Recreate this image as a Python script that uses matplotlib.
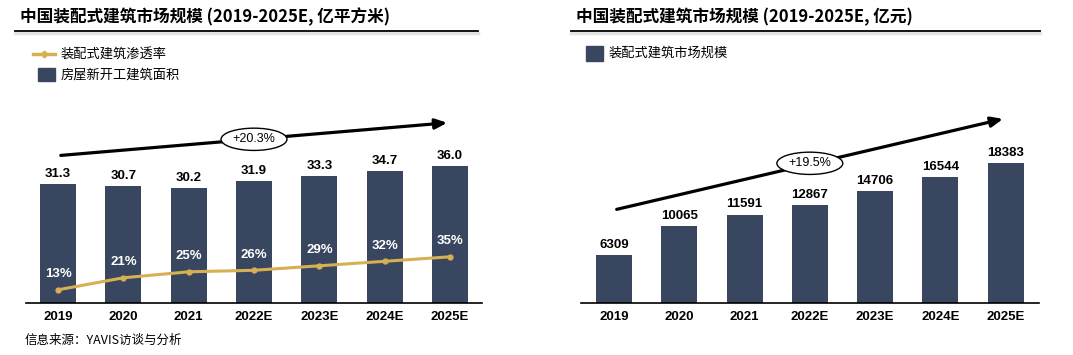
"""
China prefabricated building charts (2019-2025E)
"""
import matplotlib
matplotlib.use('Agg')
import matplotlib.pyplot as plt
from matplotlib.lines import Line2D
from matplotlib.patches import Rectangle

# data
years = ['2019', '2020', '2021', '2022E', '2023E', '2024E', '2025E']
new_area = [31.3, 30.7, 30.2, 31.9, 33.3, 34.7, 36.0]      # 亿平方米
penetration = [13, 21, 25, 26, 29, 32, 35]                  # %
market_size = [6309, 10065, 11591, 12867, 14706, 16544, 18383]  # 亿元
cagr_left = '+20.3%'
cagr_right = '+19.5%'

BAR = '#38475f'
GOLD = '#d6b052'
CJK = ['Noto Sans CJK SC', 'DejaVu Sans']
NUM = 'Liberation Sans'

W, H = 1073, 355
fig = plt.figure(figsize=(W / 100, H / 100), dpi=100)


def fx(px):
    return px / W


def fy(py):
    return 1 - py / H


def header(x0, x1, text):
    fig.text(fx(x0 + 5), fy(17), text, family=CJK, weight='bold',
             fontsize=12, va='center', ha='left')
    fig.add_artist(Line2D([fx(x0), fx(x1)], [fy(33), fy(33)],
                          color='#d9d9d9', lw=2.5, alpha=0.7))
    fig.add_artist(Line2D([fx(x0), fx(x1)], [fy(31), fy(31)],
                          color='black', lw=1.3))


def setup_axes(ax, xlim):
    ax.set_xlim(*xlim)
    for s in ['top', 'right', 'left']:
        ax.spines[s].set_visible(False)
    ax.spines['bottom'].set_linewidth(1.2)
    ax.spines['bottom'].set_color('black')
    ax.set_yticks([])
    ax.set_xticks(range(len(years)))
    ax.set_xticklabels(years, fontfamily=NUM, fontweight='bold', fontsize=9.5)
    ax.tick_params(axis='x', length=0, pad=6)
    ax.set_facecolor('none')


def cagr_arrow(ax, y0, y1, label, ly):
    ax.annotate('', xy=(6, y1), xytext=(0, y0),
                arrowprops=dict(arrowstyle='-|>,head_length=0.7,head_width=0.3',
                                color='black', lw=2.3), annotation_clip=False)
    ax.text(3.0, ly, label, ha='center', va='center', fontfamily=NUM,
            fontsize=9, zorder=5,
            bbox=dict(boxstyle='ellipse,pad=0.15', fc='white', ec='black',
                      lw=1))


# ---------------- left chart ----------------
header(15, 478, '中国装配式建筑市场规模 (2019-2025E, 亿平方米)')

fig.add_artist(Line2D([fx(33), fx(55)], [fy(54), fy(54)], color=GOLD, lw=2.5))
fig.add_artist(Line2D([fx(44)], [fy(54)], color=GOLD, marker='D',
                      markersize=3.5, linestyle='none'))
fig.text(fx(61), fy(54), '装配式建筑渗透率', family=CJK, fontsize=9.5,
         va='center')
fig.add_artist(Rectangle((fx(38), fy(81)), fx(17), 13 / H, color=BAR,
                         transform=fig.transFigure))
fig.text(fx(61), fy(75), '房屋新开工建筑面积', family=CJK, fontsize=9.5,
         va='center')

ax1 = fig.add_axes([fx(26), 1 - 302.7 / H, fx(456), 202.7 / H])
x = list(range(len(years)))
ax1.bar(x, new_area, width=0.55, color=BAR, zorder=2)
ax1.set_ylim(0, 202.7 / 3.8)
setup_axes(ax1, (-0.49, 6.49))
for xi, v in zip(x, new_area):
    ax1.annotate(f'{v:.1f}', (xi, v), xytext=(0, 3), textcoords='offset points',
                 ha='center', va='bottom', fontfamily=NUM, fontweight='bold',
                 fontsize=9.5)

# secondary axis for penetration rate: 1.5 px per %, 0% sits just below axis
ax1b = ax1.twinx()
ax1b.set_ylim(6.6 / 1.5, (309.3 - 100) / 1.5)
ax1b.plot(x, penetration, color=GOLD, lw=2.2, marker='o', markersize=3.5,
          zorder=3)
for s in ax1b.spines.values():
    s.set_visible(False)
ax1b.set_yticks([])
for xi, v in zip(x, penetration):
    ax1b.annotate(f'{v}%', (xi, v), xytext=(0, 7), textcoords='offset points',
                  ha='center', va='bottom', color='white', fontfamily=NUM,
                  fontweight='bold', fontsize=9.5)

cagr_arrow(ax1, 38.7, 47.4, cagr_left, 43.0)

fig.text(fx(25), fy(340), '信息来源：YAVIS访谈与分析', family=CJK, fontsize=9,
         style='italic', va='center')

# ---------------- right chart ----------------
header(571, 1040, '中国装配式建筑市场规模 (2019-2025E, 亿元)')
fig.add_artist(Rectangle((fx(586), fy(61)), fx(17), 15 / H, color=BAR,
                         transform=fig.transFigure))
fig.text(fx(609), fy(53), '装配式建筑市场规模', family=CJK, fontsize=9.5,
         va='center')

ax2 = fig.add_axes([fx(581), 1 - 302.7 / H, fx(458), 202.7 / H])
ax2.bar(x, market_size, width=0.55, color=BAR, zorder=2)
ax2.set_ylim(0, 202.7 * 131.6)
setup_axes(ax2, (-0.505, 6.51))
for xi, v in zip(x, market_size):
    ax2.annotate(f'{v}', (xi, v), xytext=(0, 3), textcoords='offset points',
                 ha='center', va='bottom', fontfamily=NUM, fontweight='bold',
                 fontsize=9.5)

cagr_arrow(ax2, 12200, 24267, cagr_right, 18345)

fig.savefig('out.png', dpi=100)
